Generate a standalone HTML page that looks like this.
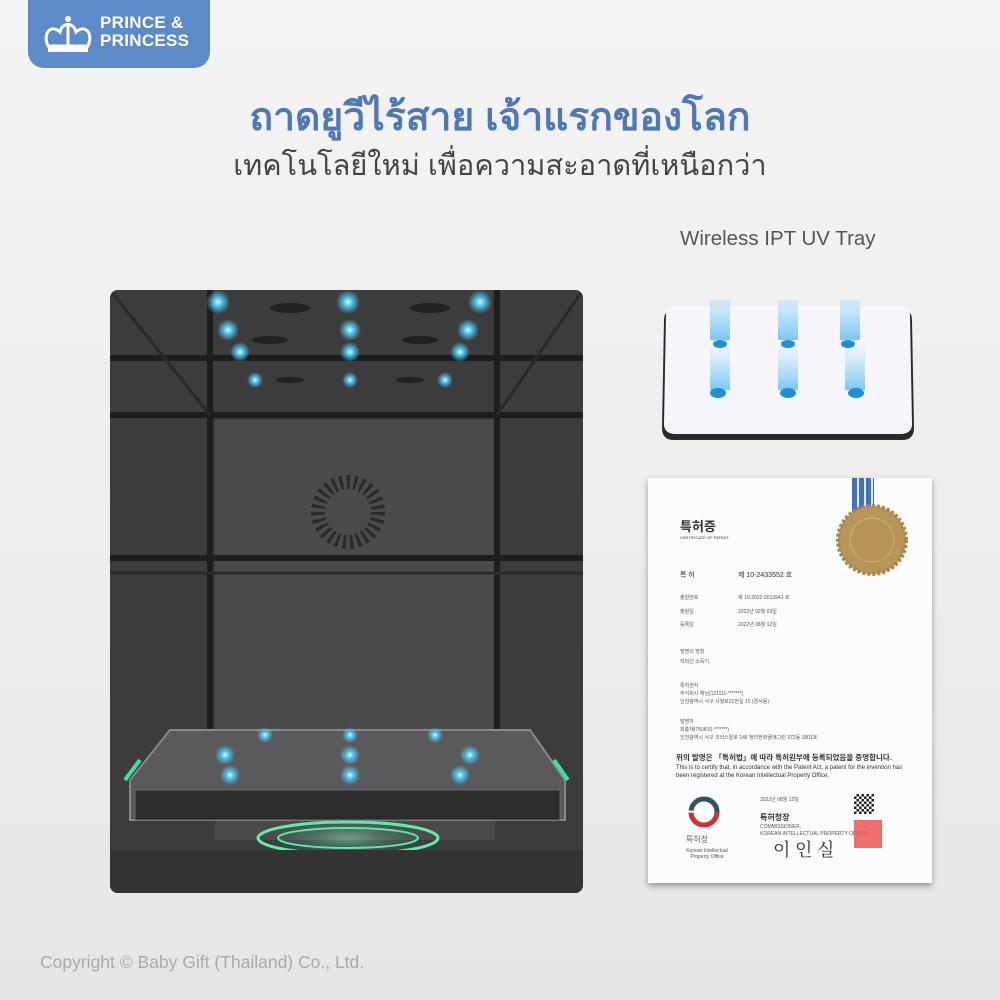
<!DOCTYPE html>
<html><head><meta charset="utf-8"><style>
*{margin:0;padding:0;box-sizing:border-box}
body{width:1000px;height:1000px;overflow:hidden;position:relative;font-family:"Liberation Sans","Noto Sans CJK KR",sans-serif;background:linear-gradient(180deg,#f4f4f4 0%,#ececec 60%,#e6e6e6 100%)}
.abs{position:absolute}
.logo{left:28px;top:0;width:182px;height:68px;background:#5d8ac8;border-radius:0 0 16px 16px;color:#fff}
.logo .t{position:absolute;left:72px;top:14px;font-weight:bold;font-size:17px;line-height:18px;letter-spacing:0.3px}
.title{left:0;width:1000px;text-align:center;top:86px;font-size:39px;font-weight:bold;color:#4f78b4;font-family:"Liberation Sans","Noto Sans CJK SC",sans-serif}
.sub{left:0;width:1000px;text-align:center;top:142px;font-size:29px;color:#444;font-family:"Liberation Sans","Noto Sans CJK SC",sans-serif}
.cab{left:110px;top:290px;width:473px;height:603px;background:#3b3b3c;border-radius:8px;overflow:hidden}
.tray{left:660px;top:300px;width:256px;height:146px}
.cert{left:648px;top:478px;width:284px;height:405px;background:#fbfcfd;box-shadow:0 3px 6px rgba(0,0,0,.35);font-size:6px;color:#333}
.copy{left:40px;top:952px;font-size:17.5px;color:#aaa}
.ksm{font-size:5px;color:#555;position:absolute}
</style></head><body>
<div class="abs logo">
<svg class="abs" style="left:14px;top:14px" width="52" height="42" viewBox="0 0 52 42"><g fill="none" stroke="#fff" stroke-width="3"><path d="M6 32 C0 18 10 10 18 18 C20 8 32 8 34 18 C42 10 52 18 46 32 Z"/><line x1="26" y1="12" x2="26" y2="32"/></g><rect x="6" y="33" width="40" height="5" fill="#fff"/><circle cx="26" cy="5" r="3" fill="#fff"/></svg>
<div class="t">PRINCE &amp;<br>PRINCESS</div></div>
<div class="abs title">ถาดยูวีไร้สาย เจ้าแรกของโลก</div>
<div class="abs sub">เทคโนโลยีใหม่ เพื่อความสะอาดที่เหนือกว่า</div>
<div class="abs" style="left:680px;top:227px;font-size:20.5px;color:#555">Wireless IPT UV Tray</div>

<div class="abs cab">
<svg width="473" height="603" viewBox="0 0 473 603">
<defs><radialGradient id="bl"><stop offset="0" stop-color="#e8fbff"/><stop offset=".35" stop-color="#4ec3f0"/><stop offset="1" stop-color="#4ec3f0" stop-opacity="0"/></radialGradient>
<radialGradient id="gl"><stop offset="0" stop-color="#9cf2c0"/><stop offset="1" stop-color="#2a8" stop-opacity="0"/></radialGradient></defs>
<rect x="0" y="0" width="473" height="603" fill="#3c3c3d"/>
<rect x="105" y="130" width="280" height="420" fill="#4a4a4b"/>
<g stroke="#1e1e1e" stroke-width="6" fill="none">
<line x1="0" y1="125" x2="473" y2="125"/><line x1="0" y1="268" x2="473" y2="268"/>
<line x1="100" y1="0" x2="100" y2="460"/><line x1="387" y1="0" x2="387" y2="460"/>
<line x1="0" y1="68" x2="473" y2="68"/>
</g>
<g stroke="#2a2a2a" stroke-width="3"><line x1="0" y1="283" x2="473" y2="283"/><line x1="0" y1="0" x2="100" y2="125"/><line x1="473" y1="0" x2="387" y2="125"/></g>
<g fill="#222"><ellipse cx="180" cy="18" rx="20" ry="5"/><ellipse cx="320" cy="18" rx="20" ry="5"/><ellipse cx="160" cy="50" rx="18" ry="4"/><ellipse cx="310" cy="50" rx="18" ry="4"/><ellipse cx="180" cy="90" rx="14" ry="3"/><ellipse cx="300" cy="90" rx="14" ry="3"/></g>
<g fill="url(#bl)"><circle cx="108" cy="12" r="12"/><circle cx="238" cy="12" r="12"/><circle cx="370" cy="12" r="12"/><circle cx="118" cy="40" r="11"/><circle cx="240" cy="40" r="11"/><circle cx="358" cy="40" r="11"/><circle cx="130" cy="62" r="10"/><circle cx="240" cy="62" r="10"/><circle cx="350" cy="62" r="10"/><circle cx="145" cy="90" r="8"/><circle cx="240" cy="90" r="8"/><circle cx="335" cy="90" r="8"/></g>
<g fill="#222"><circle cx="238" cy="222" r="30" fill="none" stroke="#2a2a2a" stroke-width="14" stroke-dasharray="3 4"/></g>
<path d="M20 490 L60 440 L420 440 L455 490 L455 530 L20 530 Z" fill="#5a5a5c" stroke="#888" stroke-width="2"/>
<rect x="25" y="500" width="425" height="30" fill="#2c2c2c" stroke="#6a6a6a"/>
<ellipse cx="238" cy="548" rx="90" ry="16" fill="none" stroke="#5ff0a8" stroke-width="3"/>
<ellipse cx="238" cy="548" rx="70" ry="10" fill="none" stroke="#5ff0a8" stroke-width="2"/>
<ellipse cx="238" cy="548" rx="80" ry="20" fill="url(#gl)" opacity=".5"/>
<path d="M15 490 L30 470 M458 490 L444 470" stroke="#3fe0a0" stroke-width="4"/>
<g fill="url(#bl)"><circle cx="115" cy="465" r="10"/><circle cx="240" cy="465" r="10"/><circle cx="360" cy="465" r="10"/><circle cx="120" cy="485" r="10"/><circle cx="240" cy="485" r="10"/><circle cx="350" cy="485" r="10"/><circle cx="155" cy="445" r="8"/><circle cx="240" cy="445" r="8"/><circle cx="325" cy="445" r="8"/></g>
<rect x="0" y="560" width="473" height="43" fill="#333"/>
</svg></div>

<div class="abs tray"><svg width="256" height="146" viewBox="0 0 256 146">
<defs><linearGradient id="bm" x1="0" y1="0" x2="0" y2="1"><stop offset="0" stop-color="#9fdcff" stop-opacity="0"/><stop offset="1" stop-color="#5bbcf0" stop-opacity=".8"/></linearGradient></defs>
<path d="M14 10 L242 10 Q252 10 252 20 L254 128 Q254 140 242 140 L14 140 Q2 140 2 128 L4 20 Q4 10 14 10Z" fill="#2a2a2a"/>
<path d="M16 6 L240 6 Q250 6 250 16 L252 124 Q252 134 240 134 L16 134 Q4 134 4 124 L6 16 Q6 6 16 6Z" fill="#f6f6fa"/>
<g fill="url(#bm)"><rect x="50" y="-20" width="20" height="60"/><rect x="118" y="-20" width="20" height="60"/><rect x="180" y="-20" width="20" height="60"/><rect x="50" y="40" width="20" height="50"/><rect x="118" y="40" width="20" height="50"/><rect x="185" y="40" width="20" height="50"/></g>
<g fill="#1f8fd8"><ellipse cx="60" cy="44" rx="7" ry="4"/><ellipse cx="128" cy="44" rx="7" ry="4"/><ellipse cx="188" cy="44" rx="7" ry="4"/><ellipse cx="58" cy="93" rx="8" ry="5"/><ellipse cx="128" cy="93" rx="8" ry="5"/><ellipse cx="196" cy="93" rx="8" ry="5"/></g>
</svg></div>

<div class="abs cert">
<div class="abs" style="left:204px;top:0;width:22px;height:42px;background:repeating-linear-gradient(90deg,#3f6fc8 0 5px,#e8eef8 5px 7px)"></div>
<svg class="abs" style="left:188px;top:26px" width="72" height="72"><circle cx="36" cy="36" r="34" fill="#b8955a" stroke="#a88548" stroke-width="4" stroke-dasharray="3 2"/><circle cx="36" cy="36" r="22" fill="none" stroke="#cdb07a"/></svg>
<div class="abs" style="left:32px;top:38px;font-size:13px;font-weight:bold">특허증</div>
<div class="abs" style="left:32px;top:57px;font-size:4px">CERTIFICATE OF PATENT</div>
<div class="abs" style="left:32px;top:92px;font-size:7px">특 허</div>
<div class="abs" style="left:90px;top:92px;font-size:7px">제 10-2433552 호</div>
<div class="ksm" style="left:32px;top:116px">출원번호</div><div class="ksm" style="left:90px;top:116px">제 10-2022-0013941 호</div>
<div class="ksm" style="left:32px;top:130px">출원일</div><div class="ksm" style="left:90px;top:130px">2022년 02월 03일</div>
<div class="ksm" style="left:32px;top:143px">등록일</div><div class="ksm" style="left:90px;top:143px">2022년 08월 12일</div>
<div class="ksm" style="left:32px;top:170px">발명의 명칭</div><div class="ksm" style="left:32px;top:180px">자외선 소독기</div>
<div class="ksm" style="left:32px;top:204px">특허권자</div><div class="ksm" style="left:32px;top:212px">주식회사 해님(121111-*******)</div><div class="ksm" style="left:32px;top:220px">인천광역시 서구 사월로21번길 15 (경서동)</div>
<div class="ksm" style="left:32px;top:240px">발명자</div><div class="ksm" style="left:32px;top:248px">최충재(750810-*******)</div><div class="ksm" style="left:32px;top:256px">인천광역시 서구 크리스탈로 146 청라한화꿈에그린 372동 1801호</div>
<div class="abs" style="left:28px;top:274px;font-size:7.5px;font-weight:bold">위의 발명은 「특허법」에 따라 특허원부에 등록되었음을 증명합니다.</div>
<div class="abs" style="left:28px;top:286px;font-size:6px;line-height:8px;width:240px">This is to certify that, in accordance with the Patent Act, a patent for the invention has been registered at the Korean Intellectual Property Office.</div>
<svg class="abs" style="left:40px;top:318px" width="32" height="32"><circle cx="16" cy="16" r="13" fill="none" stroke="#c33" stroke-width="5" stroke-dasharray="40 42"/><circle cx="16" cy="16" r="13" fill="none" stroke="#355" stroke-width="5" stroke-dasharray="40 42" stroke-dashoffset="40"/></svg>
<div class="abs" style="left:38px;top:356px;font-size:8px;color:#666">특허청</div>
<div class="ksm" style="left:34px;top:370px;width:50px;text-align:center">Korean Intellectual Property Office</div>
<div class="ksm" style="left:112px;top:318px">2022년 08월 12일</div>
<div class="abs" style="left:112px;top:334px;font-size:8px;font-weight:bold">특허청장</div>
<div class="ksm" style="left:112px;top:346px">COMMISSIONER,</div><div class="ksm" style="left:112px;top:353px">KOREAN INTELLECTUAL PROPERTY OFFICE</div>
<div class="abs" style="left:125px;top:358px;font-size:18px;font-family:'Noto Serif CJK SC',serif">이 인 실</div>
<div class="abs" style="left:206px;top:316px;width:20px;height:20px;background:repeating-conic-gradient(#222 0 25%,#fff 0 50%) 0 0/5px 5px"></div>
<div class="abs" style="left:206px;top:342px;width:28px;height:28px;background:#e55;opacity:.85"></div>
</div>

<div class="abs copy">Copyright © Baby Gift (Thailand) Co., Ltd.</div>
</body></html>
